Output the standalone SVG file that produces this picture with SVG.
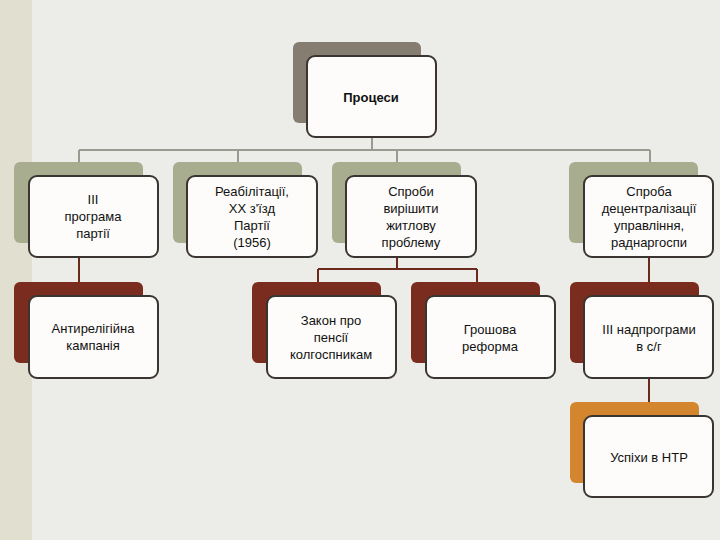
<svg xmlns="http://www.w3.org/2000/svg" width="720" height="540" viewBox="0 0 720 540">
<style>
.f{fill:#fdfcfa;stroke:#3a3530;stroke-width:2}
.g{fill:#857d70}.o{fill:#a8ad90}.r{fill:#7a2c1f}.a{fill:#d4862e}
text{font-family:"Liberation Sans",Arial,sans-serif;font-size:13px;fill:#111;text-anchor:middle}
.c1{stroke:#9a9a90;stroke-width:2;fill:none}.c2{stroke:#6b2a1c;stroke-width:2;fill:none}
</style>
<rect width="720" height="540" fill="#ecece8"/>
<rect width="32" height="540" fill="#e1dfd0"/>
<g id="connectors">
<path class="c1" d="M372 137V150M79 150H650M79 150V176M238 150V176M397 150V176M650 150V176"/>
<path class="c2" d="M79 257V296M397 257V269M318 269H477M318 269V282M477 269V282M649 257V282M649 378V402"/>
</g>
<g id="n0"><rect class="g" x="293" y="42" width="128" height="81" rx="6"/><rect class="f" x="307" y="56" width="129" height="81" rx="8"/><text x="371" y="102" font-weight="bold">Процеси</text></g>
<g id="n1"><rect class="o" x="14" y="162" width="129" height="81" rx="6"/><rect class="f" x="29" y="176" width="129" height="81" rx="8"/><text x="93" y="204">III</text><text x="93" y="221">програма</text><text x="93" y="238">партії</text></g>
<g id="n2"><rect class="o" x="173" y="162" width="129" height="81" rx="6"/><rect class="f" x="187" y="176" width="130" height="81" rx="8"/><text x="252" y="196">Реабілітації,</text><text x="252" y="213">XX з'їзд</text><text x="252" y="230">Партії</text><text x="252" y="247">(1956)</text></g>
<g id="n3"><rect class="o" x="332" y="162" width="129" height="81" rx="6"/><rect class="f" x="346" y="176" width="130" height="81" rx="8"/><text x="411" y="196">Спроби</text><text x="411" y="213">вирішити</text><text x="411" y="230">житлову</text><text x="411" y="247">проблему</text></g>
<g id="n4"><rect class="o" x="569" y="162" width="129" height="81" rx="6"/><rect class="f" x="584" y="176" width="129" height="81" rx="8"/><text x="649" y="196">Спроба</text><text x="649" y="213">децентралізації</text><text x="649" y="230">управління,</text><text x="649" y="247">раднаргоспи</text></g>
<g id="n5"><rect class="r" x="14" y="282" width="129" height="81" rx="6"/><rect class="f" x="29" y="296" width="129" height="82" rx="8"/><text x="93" y="333">Антирелігійна</text><text x="93" y="350">кампанія</text></g>
<g id="n6"><rect class="r" x="252" y="282" width="129" height="81" rx="6"/><rect class="f" x="267" y="296" width="129" height="82" rx="8"/><text x="331" y="325">Закон про</text><text x="331" y="342">пенсії</text><text x="331" y="359">колгоспникам</text></g>
<g id="n7"><rect class="r" x="411" y="282" width="129" height="81" rx="6"/><rect class="f" x="426" y="296" width="129" height="82" rx="8"/><text x="490" y="334">Грошова</text><text x="490" y="351">реформа</text></g>
<g id="n8"><rect class="r" x="570" y="282" width="129" height="81" rx="6"/><rect class="f" x="584" y="296" width="129" height="82" rx="8"/><text x="649" y="334">III надпрограми</text><text x="649" y="351">в с/г</text></g>
<g id="n9"><rect class="a" x="570" y="402" width="129" height="81" rx="6"/><rect class="f" x="584" y="416" width="129" height="81" rx="8"/><text x="649" y="462">Успіхи в НТР</text></g>
</svg>
